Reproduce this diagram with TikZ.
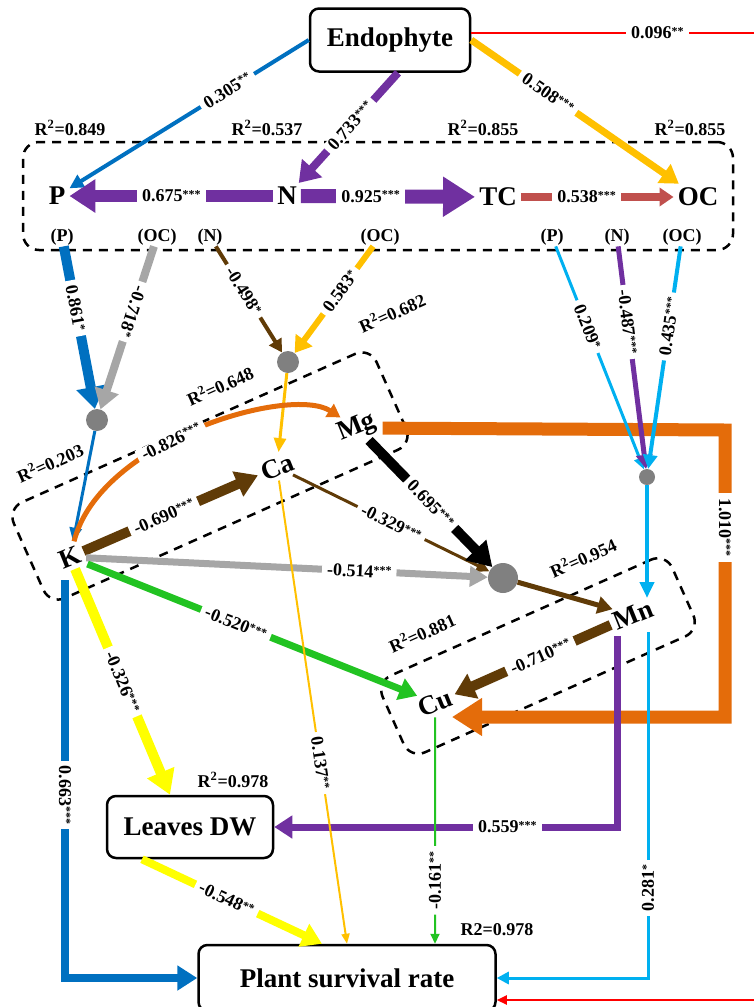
\documentclass[tikz,border=0pt]{standalone}
\usepackage{fontspec}
\setmainfont{Liberation Serif}
\usetikzlibrary{arrows.meta}
\definecolor{cblue}{HTML}{0070C0}
\definecolor{cpurp}{HTML}{7030A0}
\definecolor{cgold}{HTML}{FFC000}
\definecolor{ctcred}{HTML}{C0504D}
\definecolor{cgray}{HTML}{A6A6A6}
\definecolor{cdot}{HTML}{808080}
\definecolor{cbrown}{HTML}{603B07}
\definecolor{corange}{HTML}{E46C0A}
\definecolor{cyellow}{HTML}{FFFF00}
\definecolor{cgreen}{HTML}{22C322}
\definecolor{ccyan}{HTML}{00B0F0}
\definecolor{cred}{HTML}{FF0000}
\newcommand\sg[1]{\raisebox{3.5pt}{\fontsize{12}{12}\selectfont #1}}
\newcommand\lf{\fontsize{18}{20}\selectfont\bfseries}
\newcommand\nf{\fontsize{27}{29}\selectfont\bfseries}
\tikzset{
  lab/.style={font=\lf, text=black, fill=white, inner xsep=5pt, inner ysep=1pt},
  rsq/.style={font=\lf, text=black, inner sep=1pt},
  var/.style={font=\nf, inner sep=4pt},
  txtbox/.style={draw, line width=2.5pt, rounded corners=9pt, font=\nf},
  dbox/.style={draw, line width=2.5pt, dash pattern=on 9pt off 7pt, rounded corners=16pt},
  dot/.style={circle, fill=cdot, inner sep=0pt},
  tri/.style 2 args={-{Triangle[length=#1pt,width=#2pt]}}
}
\begin{document}
\begin{tikzpicture}[x=1pt,y=-1pt]
\useasboundingbox (0,0) rectangle (753,1007);

% dashed groups
\node[dbox, minimum width=710pt, minimum height=108pt] (g1) at (378,196) {};
\node[dbox, minimum width=397pt, minimum height=105pt, rotate=24] (g2) at (210,476) {};
\node[dbox, minimum width=317pt, minimum height=84pt, rotate=24] (g3) at (538,656) {};

% main nodes
\node[txtbox, minimum width=160pt, minimum height=63pt] (endo) at (390,40) {Endophyte};
\node[var] (P) at (57,196) {P};
\node[var] (N) at (287,196) {N};
\node[var] (TC) at (498,197) {TC};
\node[var] (OC) at (698,197) {OC};
\node[rsq] (pP1) at (62,237) {(P)};
\node[rsq] (pOC1) at (157,237) {(OC)};
\node[rsq] (pN2) at (210,237) {(N)};
\node[rsq] (pOC2) at (380,237) {(OC)};
\node[rsq] (pP3) at (552,237) {(P)};
\node[rsq] (pN3) at (617,237) {(N)};
\node[rsq] (pOC3) at (682,237) {(OC)};

\node[dot, minimum size=22pt] (c1) at (97,420) {};
\node[dot, minimum size=22pt] (c2) at (288,362) {};
\node[dot, minimum size=16pt] (c3) at (647,477) {};
\node[dot, minimum size=30pt] (c4) at (503,578) {};

\node[var, rotate=22] (K) at (70,557) {K};
\node[var, rotate=22] (Ca) at (277,467) {Ca};
\node[var, rotate=22] (Mg) at (357,428) {Mg};
\node[var, rotate=22] (Mn) at (633,615) {Mn};
\node[var, rotate=22] (Cu) at (435,703) {Cu};

\node[txtbox, minimum width=166pt, minimum height=62pt] (LDW) at (190,827) {Leaves DW};
\node[txtbox, minimum width=297pt, minimum height=66pt] (PSR) at (347,978) {Plant survival rate};

% R2 labels
\node[rsq] (r1) at (70,128) {R\textsuperscript{2}=0.849};
\node[rsq] (r2) at (267,128) {R\textsuperscript{2}=0.537};
\node[rsq] (r3) at (483,128) {R\textsuperscript{2}=0.855};
\node[rsq] (r4) at (690,128) {R\textsuperscript{2}=0.855};
\node[rsq, rotate=24] (r5) at (392,313) {R\textsuperscript{2}=0.682};
\node[rsq, rotate=24] (r6) at (220,386) {R\textsuperscript{2}=0.648};
\node[rsq, rotate=24] (r7) at (50,463) {R\textsuperscript{2}=0.203};
\node[rsq, rotate=24] (r8) at (583,558) {R\textsuperscript{2}=0.954};
\node[rsq, rotate=24] (r9) at (422,633) {R\textsuperscript{2}=0.881};
\node[rsq] (r10) at (233,780) {R\textsuperscript{2}=0.978};
\node[rsq] (r11) at (497,930) {R2=0.978};

% helper coordinates
\coordinate (redA) at (762,33);
\coordinate (redB) at (762,1000);
\coordinate (ocA) at (725,430);
\coordinate (ocB) at (725,717);
\coordinate (CuR) at (452,717);
\coordinate (MnT) at (647,598);
\coordinate (MnB) at (617,636);
\coordinate (MnC) at (648,632);
\coordinate (Kb) at (65,580);

% connectors
\draw[corange, line width=13pt, tri={30}{36}] (Mg) -- (ocA) -- node[lab, sloped, pos=0.34]{1.010\sg{***}} (ocB) -- (CuR);

\draw[cred, line width=2pt, tri={10}{9}] ([yshift=7pt]endo.east) -- node[lab, pos=0.64]{0.096\sg{**}} (redA) -- (redB) -- ([yshift=-22pt]PSR.east);

\draw[cblue, line width=4pt, tri={14}{14}] (endo.west) -- node[lab, sloped, pos=0.34]{0.305\sg{**}} (P);
\draw[cpurp, line width=8pt, tri={20}{26}] ([xshift=8pt]endo.south) -- node[lab, sloped, pos=0.48]{0.733\sg{***}} (N);
\draw[cgold, line width=7pt, tri={18}{22}] (endo.east) -- node[lab, sloped, pos=0.37]{0.508\sg{***}} (OC);
\draw[cpurp, line width=12pt, tri={26}{32}] (N) -- node[lab, pos=0.5]{0.675\sg{***}} (P);
\draw[cpurp, line width=14pt, tri={32}{38}] (N) -- node[lab, pos=0.4]{0.925\sg{***}} (TC);
\draw[ctcred, line width=8pt, tri={14}{18}] (TC) -- node[lab, pos=0.43]{0.538\sg{***}} (OC);

\draw[cblue, line width=10pt, tri={22}{28}] (pP1) -- node[lab, sloped, pos=0.38]{0.861\sg{*}} (c1);
\draw[cgray, line width=8pt, tri={20}{24}] (pOC1) -- node[lab, sloped, allow upside down, pos=0.4]{-0.718\sg{*}} (c1);
\draw[cbrown, line width=4pt, tri={13}{14}] (pN2) -- node[lab, sloped, pos=0.42]{-0.498\sg{*}} (c2);
\draw[cgold, line width=6pt, tri={16}{20}] (pOC2) -- node[lab, sloped, pos=0.42]{0.583\sg{*}} (c2);
\draw[ccyan, line width=3pt, tri={12}{11}] (pP3) -- node[lab, sloped, pos=0.36]{0.209\sg{*}} (c3);
\draw[cpurp, line width=5pt, tri={14}{16}] (pN3) -- node[lab, sloped, pos=0.34]{-0.487\sg{***}} (c3);
\draw[ccyan, line width=4pt, tri={14}{14}] (pOC3) -- node[lab, sloped, pos=0.36]{0.435\sg{***}} (c3);

\draw[cblue, line width=3pt, tri={14}{12}] (c1) -- (K);
\draw[cgold, line width=3pt, tri={14}{12}] (c2) -- (Ca);
\draw[corange, line width=5pt, tri={13}{15}] (K) .. controls (100,440) and (290,385) .. (Mg) node[lab, sloped, pos=0.42]{-0.826\sg{***}};
\draw[cbrown, line width=10pt, tri={22}{26}] (K) -- node[lab, sloped, pos=0.46]{-0.690\sg{***}} (Ca);
\draw[cbrown, line width=3pt, tri={13}{13}] (Ca) -- node[lab, sloped, pos=0.5]{-0.329\sg{***}} (c4);
\draw[black, line width=10pt, tri={24}{28}] (Mg) -- node[lab, sloped, pos=0.5]{0.695\sg{***}} (c4);
\draw[cgray, line width=7pt, tri={18}{20}] (K) -- node[lab, sloped, pos=0.68]{-0.514\sg{***}} (c4);
\draw[cbrown, line width=5pt, tri={15}{17}] (c4) -- (Mn);
\draw[ccyan, line width=4pt, tri={16}{14}] (c3) -- (MnT);
\draw[cbrown, line width=10pt, tri={20}{26}] (Mn) -- node[lab, sloped, pos=0.45]{-0.710\sg{***}} (Cu);
\draw[cgreen, line width=7pt, tri={18}{22}] (K) -- node[lab, sloped, pos=0.45]{-0.520\sg{***}} (Cu);
\draw[cyellow, line width=10pt, tri={24}{28}] (K) -- node[lab, sloped, pos=0.5]{-0.326\sg{***}} ([xshift=-20pt]LDW.north);

\draw[cpurp, line width=7pt, tri={18}{22}] (MnB) |- node[lab, pos=0.66]{0.559\sg{***}} (LDW.east);
\draw[cblue, line width=8pt, tri={20}{24}] (Kb) |- node[lab, sloped, pos=0.27]{0.663\sg{***}} (PSR.west);
\draw[cyellow, line width=8pt, tri={20}{24}] ([xshift=-48pt]LDW.south) -- node[lab, sloped, pos=0.47]{-0.548\sg{**}} ([xshift=-25pt]PSR.north);
\draw[cgold, line width=2pt, tri={10}{8}] (Ca) -- node[lab, sloped, pos=0.61]{0.137\sg{**}} (PSR.north);
\draw[cgreen, line width=2pt, tri={10}{9}] (Cu) -- node[lab, sloped, pos=0.72]{-0.161\sg{**}} (Cu |- PSR.north);
\draw[ccyan, line width=3pt, tri={12}{12}] (MnC) |- node[lab, rotate=90, pos=0.37]{0.281\sg{*}} (PSR.east);
\end{tikzpicture}
\end{document}
